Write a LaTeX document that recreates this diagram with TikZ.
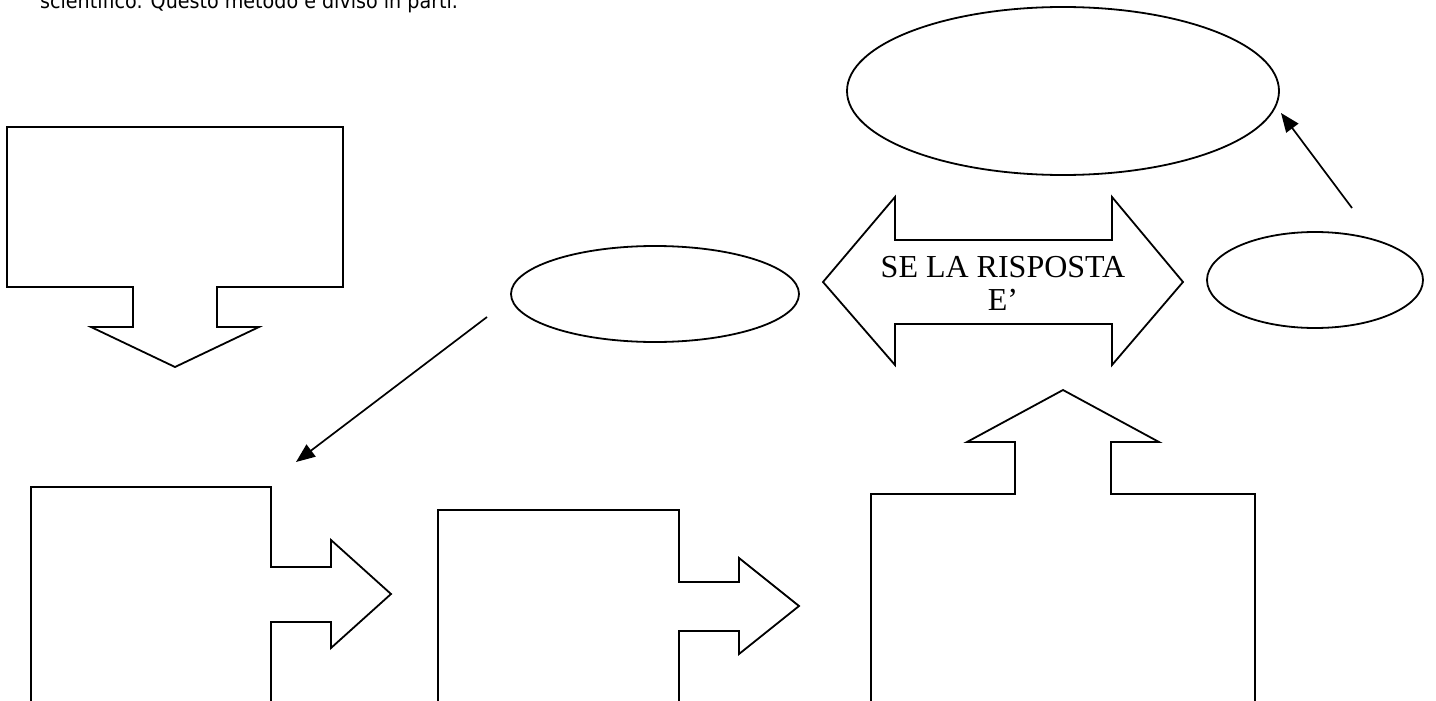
\documentclass[tikz,border=0pt]{standalone}
\usepackage{fontspec}
\setmainfont{Liberation Serif}
\newfontfamily\introfont{DejaVu Sans}
\usetikzlibrary{shapes.geometric,arrows.meta}

\begin{document}
\begin{tikzpicture}[x=1pt,y=-1pt,
                    callout/.style={draw,line width=1.8pt,line join=miter},
                    oval/.style={draw,ellipse,line width=1.8pt,inner sep=0pt},
                    pointer/.style={draw,line width=1.7pt,-{Triangle[length=19pt,width=15pt]}}]
                    \useasboundingbox (0,0) rectangle (1436,701);
                    \clip (0,0) rectangle (1436,701);
                    % cut line of text
                    \node[font=\introfont\fontsize{21}{25}\selectfont,anchor=base west,inner sep=0pt,
                            xscale=0.91] (intro) at (40,9) {scientifico. Questo metodo è diviso in parti.};
                    % top box, arrow down
                    \draw[callout] (7,127) -- (343,127) -- (343,287) -- (217,287) -- (217,327)
                            -- (259,327) -- (175,367) -- (91,327) -- (133,327) -- (133,287)
                            -- (7,287) -- cycle;
                    % lower boxes, arrows right
                    \draw[callout] (31,720) -- (31,487) -- (271,487) -- (271,567) -- (331,567)
                            -- (331,540) -- (391,594) -- (331,648) -- (331,622) -- (271,622)
                            -- (271,720);
                    \draw[callout] (438,720) -- (438,510) -- (679,510) -- (679,582) -- (739,582)
                            -- (739,558) -- (799,606) -- (739,654) -- (739,631) -- (679,631)
                            -- (679,720);
                    % right box, arrow up
                    \draw[callout] (871,720) -- (871,494) -- (1015,494) -- (1015,442) -- (967,442)
                            -- (1063,390) -- (1159,442) -- (1111,442) -- (1111,494) -- (1255,494)
                            -- (1255,720);
                    % double arrow
                    \draw[callout] (823,282) -- (895,197) -- (895,240) -- (1112,240) -- (1112,197)
                            -- (1183,282) -- (1112,365) -- (1112,324) -- (895,324) -- (895,365)
                            -- cycle;
                    \node[font=\fontsize{32}{33}\selectfont,align=center,anchor=base]
                            (answer) at (1003,310) {SE LA RISPOSTA\\E’};
                    % ovals
                    \node[oval,minimum width=432pt,minimum height=168pt] (goal) at (1063,91) {};
                    \node[oval,minimum width=288pt,minimum height=96pt] (query) at (655,294) {};
                    \node[oval,minimum width=216pt,minimum height=96pt] (reply) at (1315,280) {};
                    % pointers
                    \coordinate (qtail) at (487,317);
                    \coordinate (qhead) at (296,462);
                    \coordinate (rtail) at (1352,208);
                    \coordinate (rhead) at (1281,113);
                    \draw[pointer] (qtail) -- (qhead);
                    \draw[pointer] (rtail) -- (rhead);
                \end{tikzpicture}
\end{document}
